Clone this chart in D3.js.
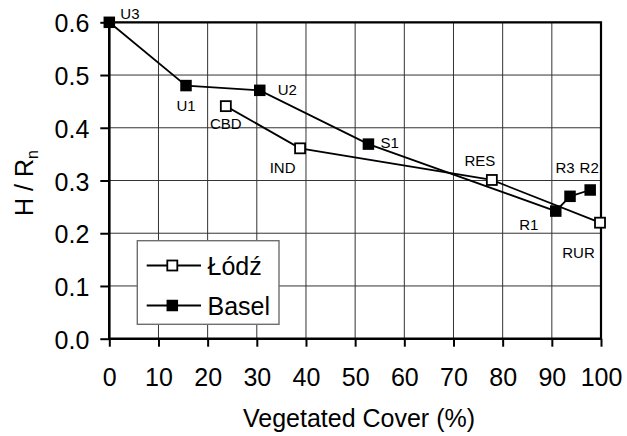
<!DOCTYPE html>
<html>
<head>
<meta charset="utf-8">
<script src="https://cdn.jsdelivr.net/npm/d3@7"></script>
<style>
  html, body { margin: 0; padding: 0; background: #fff; }
  svg { display: block; font-family: Arial, "Liberation Sans", sans-serif; }
</style>
</head>
<body>
<svg id="chart" width="627" height="436"></svg>
<script>
// Sensible heat flux ratio against vegetated cover for two cities
const baselSites = ["U3", "U1", "U2", "S1", "R1", "R3", "R2"];
const baselCover = [0, 15.6, 30.6, 52.7, 90.8, 93.7, 97.8];
const baselRatio = [0.60, 0.48, 0.471, 0.369, 0.242, 0.270, 0.282];

const lodzSites = ["CBD", "IND", "RES", "RUR"];
const lodzCover = [23.7, 38.8, 77.8, 99.8];
const lodzRatio = [0.441, 0.361, 0.301, 0.220];

const xTicks = [0, 10, 20, 30, 40, 50, 60, 70, 80, 90, 100];
const yTicks = [0.0, 0.1, 0.2, 0.3, 0.4, 0.5, 0.6];

// label placement relative to each marker: [dx, dy, anchor]
const labelOffsets = {
  U3: [11, -3, "start"], U1: [0, 25, "middle"], U2: [18, 5, "start"],
  S1: [12, 3.5, "start"], R1: [-27, 18.5, "middle"], R3: [-5, -23, "middle"],
  R2: [-1, -17, "middle"], CBD: [0, 23, "middle"], IND: [-17.5, 25, "middle"],
  RES: [-12, -13.5, "middle"], RUR: [-21.5, 35, "middle"]
};

const svg = d3.select("#chart");
const plotLeft = 109.3, plotRight = 601, plotTop = 22.3, plotBottom = 338.7;

const x = d3.scaleLinear().domain([0, 100]).range([plotLeft, plotRight]);
const y = d3.scaleLinear().domain([0, 0.6]).range([plotBottom, plotTop]);

// grid
const grid = svg.append("g");
grid.selectAll("line.v").data(xTicks).join("line")
  .attr("x1", d => x(d)).attr("x2", d => x(d))
  .attr("y1", plotTop).attr("y2", plotBottom)
  .attr("stroke", "#333").attr("stroke-width", 1);
grid.selectAll("line.h").data(yTicks).join("line")
  .attr("x1", plotLeft).attr("x2", plotRight)
  .attr("y1", d => y(d)).attr("y2", d => y(d))
  .attr("stroke", "#333").attr("stroke-width", 1);

// frame (top and right)
svg.append("path")
  .attr("d", `M${plotLeft},${plotTop}H${plotRight}V${plotBottom}`)
  .attr("fill", "none").attr("stroke", "#000").attr("stroke-width", 2.2);

// axes
const xAxis = d3.axisBottom(x).tickValues(xTicks).tickSize(8).tickPadding(22)
  .tickFormat(d3.format("d"));
const yAxis = d3.axisLeft(y).tickValues(yTicks).tickSize(9).tickPadding(11)
  .tickFormat(d3.format(".1f"));

const gx = svg.append("g").attr("transform", `translate(0,${plotBottom})`).call(xAxis);
const gy = svg.append("g").attr("transform", `translate(${plotLeft},0)`).call(yAxis);
[gx, gy].forEach(g => {
  g.select(".domain").remove();
  g.selectAll(".tick line").attr("stroke", "#000").attr("stroke-width", 2);
  g.selectAll(".tick text").attr("fill", "#000").attr("font-size", 25)
    .attr("font-family", "Arial, 'Liberation Sans', sans-serif");
});
gy.selectAll(".tick text").attr("dy", "0.38em");
svg.append("line").attr("x1", plotLeft).attr("x2", plotLeft).attr("y1", plotTop - 1).attr("y2", plotBottom + 1)
  .attr("stroke", "#000").attr("stroke-width", 2.6);
svg.append("line").attr("x1", plotLeft - 1).attr("x2", plotRight + 1).attr("y1", plotBottom).attr("y2", plotBottom)
  .attr("stroke", "#000").attr("stroke-width", 2.6);

// axis titles
svg.append("text")
  .attr("x", 359).attr("y", 427)
  .attr("text-anchor", "middle").attr("font-size", 25)
  .text("Vegetated Cover (%)");
const yt = svg.append("text")
  .attr("transform", "translate(33,183) rotate(-90)")
  .attr("text-anchor", "middle").attr("font-size", 25);
yt.append("tspan").text("H / R");
yt.append("tspan").attr("font-size", 16).attr("dy", 5).text("n");

// series
const line = d3.line().x(d => x(d.cover)).y(d => y(d.ratio));
const series = [
  { sites: lodzSites, cover: lodzCover, ratio: lodzRatio, fill: "#fff" },
  { sites: baselSites, cover: baselCover, ratio: baselRatio, fill: "#000" }
].map(s => ({ ...s, pts: s.sites.map((n, i) => ({ name: n, cover: s.cover[i], ratio: s.ratio[i] })) }));

series.forEach(s => {
  svg.append("path").datum(s.pts).attr("d", line)
    .attr("fill", "none").attr("stroke", "#000").attr("stroke-width", 1.8);
});
series.forEach(s => {
  const size = s.fill === "#000" ? 11.5 : 10;
  svg.append("g").selectAll("rect").data(s.pts).join("rect")
    .attr("x", d => x(d.cover) - size / 2).attr("y", d => y(d.ratio) - size / 2)
    .attr("width", size).attr("height", size)
    .attr("fill", s.fill).attr("stroke", "#000").attr("stroke-width", s.fill === "#000" ? 0 : 1.8);
  svg.append("g").selectAll("text").data(s.pts).join("text")
    .attr("x", d => x(d.cover) + labelOffsets[d.name][0])
    .attr("y", d => y(d.ratio) + labelOffsets[d.name][1])
    .attr("text-anchor", d => labelOffsets[d.name][2])
    .attr("font-size", 15)
    .text(d => d.name);
});

// legend
const lg = svg.append("g");
lg.append("rect").attr("x", 137.3).attr("y", 240.7).attr("width", 141.7).attr("height", 83.6)
  .attr("fill", "#fff").attr("stroke", "#6e6e6e").attr("stroke-width", 1.4);
const legendItems = [
  { name: "Łódź", fill: "#fff", cy: 265.5 },
  { name: "Basel", fill: "#000", cy: 305.5 }
];
legendItems.forEach(it => {
  lg.append("line").attr("x1", 146.7).attr("x2", 201).attr("y1", it.cy).attr("y2", it.cy)
    .attr("stroke", "#000").attr("stroke-width", 1.8);
  const size = it.fill === "#000" ? 11.5 : 10;
  lg.append("rect").attr("x", 172.3 - size / 2).attr("y", it.cy - size / 2)
    .attr("width", size).attr("height", size)
    .attr("fill", it.fill).attr("stroke", "#000").attr("stroke-width", it.fill === "#000" ? 0 : 1.8);
  lg.append("text").attr("x", 207.5).attr("y", it.cy + 9).attr("font-size", 25).text(it.name);
});
</script>
</body>
</html>
